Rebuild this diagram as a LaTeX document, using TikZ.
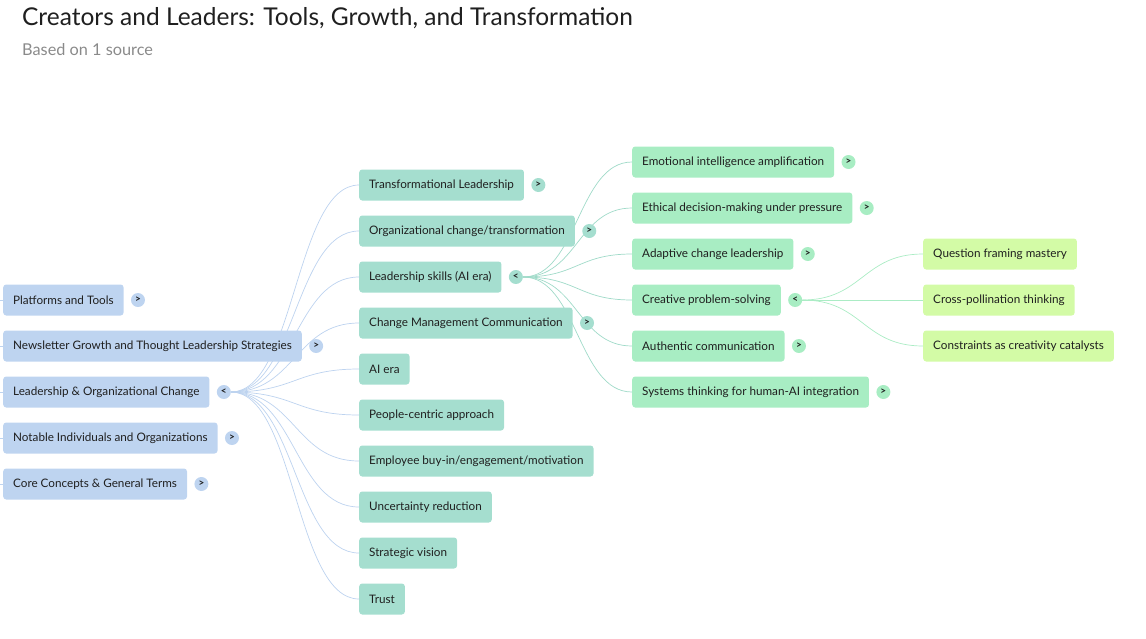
\documentclass[tikz,border=0pt]{standalone}
\usepackage{fontspec}
\setmainfont{Lato}
\usetikzlibrary{positioning,calc,backgrounds}

\definecolor{blueA}{HTML}{BED4F0}
\definecolor{tealB}{HTML}{A5DECF}
\definecolor{greenC}{HTML}{A8EDC3}
\definecolor{limeD}{HTML}{D3FBA6}
\definecolor{lineA}{HTML}{BDD3EF}
\definecolor{lineB}{HTML}{9FDAC8}
\definecolor{lineC}{HTML}{ABECC5}
\definecolor{inkT}{HTML}{1F1F1F}
\definecolor{inkS}{HTML}{8A8A8A}

\tikzset{
  box/.style={rectangle, rounded corners=3pt, anchor=west, minimum height=31pt,
    inner xsep=10pt, text=inkT, font=\fontsize{11.7}{14}\selectfont},
  lvlA/.style={box, fill=blueA},
  lvlB/.style={box, fill=tealB},
  lvlC/.style={box, fill=greenC},
  lvlD/.style={box, fill=limeD},
  badge/.style={circle, inner sep=0pt, minimum size=14pt, text=inkT,
    font=\fontsize{10}{10}\selectfont\bfseries},
  link/.style={line width=0.7pt, to path={let \p1=(\tikztostart), \p2=(\tikztotarget) in
    .. controls ({(\x1+\x2)/2},\y1) and ({(\x1+\x2)/2},\y2) .. (\tikztotarget)}},
}

\begin{document}
\begin{tikzpicture}[x=1pt, y=-1pt]
\useasboundingbox (0,0) rectangle (1146,638);

% title
\node[anchor=base west, inner sep=0pt, text=inkT, font=\fontsize{24.5}{28}\selectfont] (title) at (22,25) {Creators and Leaders: Tools, Growth, and Transformation};
\node[anchor=base west, inner sep=0pt, text=inkS, font=\fontsize{16.3}{19}\selectfont] (sub) at (22,55) {Based on 1 source};

% first level
\node[lvlA] (plat) at (3,300) {Platforms and Tools};
\node[lvlA] (news) at (3,346) {Newsletter Growth and Thought Leadership Strategies};
\node[lvlA] (lead) at (3,392) {Leadership \& Organizational Change};
\node[lvlA] (nota) at (3,438) {Notable Individuals and Organizations};
\node[lvlA] (core) at (3,484) {Core Concepts \& General Terms};

\node[badge, fill=blueA, right=7pt of plat] (platb) {>};
\node[badge, fill=blueA, right=7pt of news] (newsb) {>};
\node[badge, fill=blueA, right=7pt of lead] (leadb) {<};
\node[badge, fill=blueA, right=7pt of nota] (notab) {>};
\node[badge, fill=blueA, right=7pt of core] (coreb) {>};

% second level
\node[lvlB] (trans) at (359,185) {Transformational Leadership};
\node[lvlB] (orgch) at (359,231) {Organizational change/transformation};
\node[lvlB] (skill) at (359,277) {Leadership skills (AI era)};
\node[lvlB] (chmgt) at (359,323) {Change Management Communication};
\node[lvlB] (aiera) at (359,369) {AI era};
\node[lvlB] (peopl) at (359,415) {People-centric approach};
\node[lvlB] (buyin) at (359,461) {Employee buy-in/engagement/motivation};
\node[lvlB] (uncer) at (359,507) {Uncertainty reduction};
\node[lvlB] (strat) at (359,553) {Strategic vision};
\node[lvlB] (trust) at (359,599) {Trust};

\node[badge, fill=tealB, right=7pt of trans] (transb) {>};
\node[badge, fill=tealB, right=7pt of orgch] (orgchb) {>};
\node[badge, fill=tealB, right=7pt of skill] (skillb) {<};
\node[badge, fill=tealB, right=7pt of chmgt] (chmgtb) {>};

% third level
\node[lvlC] (emoti) at (632,162) {Emotional intelligence amplification};
\node[lvlC] (ethic) at (632,208) {Ethical decision-making under pressure};
\node[lvlC] (adapt) at (632,254) {Adaptive change leadership};
\node[lvlC] (creat) at (632,300) {Creative problem-solving};
\node[lvlC] (authe) at (632,346) {Authentic communication};
\node[lvlC] (syste) at (632,392) {Systems thinking for human-AI integration};

\node[badge, fill=greenC, right=7pt of emoti] (emotib) {>};
\node[badge, fill=greenC, right=7pt of ethic] (ethicb) {>};
\node[badge, fill=greenC, right=7pt of adapt] (adaptb) {>};
\node[badge, fill=greenC, right=7pt of creat] (creatb) {<};
\node[badge, fill=greenC, right=7pt of authe] (autheb) {>};
\node[badge, fill=greenC, right=7pt of syste] (systeb) {>};

% fourth level
\node[lvlD] (quest) at (923,254) {Question framing mastery};
\node[lvlD] (cross) at (923,300) {Cross-pollination thinking};
\node[lvlD] (const) at (923,346) {Constraints as creativity catalysts};

% links, behind the boxes
\begin{pgfonlayer}{background}
\foreach \k in {plat,news,lead,nota,core}
  \draw[lineA, line width=0.7pt] (\k.west) -- +(-3,0);
\foreach \k in {trans,orgch,skill,chmgt,aiera,peopl,buyin,uncer,strat,trust}
  \draw[lineA, link] (leadb.east) to (\k.west);
\foreach \k in {emoti,ethic,adapt,creat,authe,syste}
  \draw[lineB, link] (skillb.east) to (\k.west);
\foreach \k in {quest,cross,const}
  \draw[lineC, link] (creatb.east) to (\k.west);
\end{pgfonlayer}
\end{tikzpicture}
\end{document}
